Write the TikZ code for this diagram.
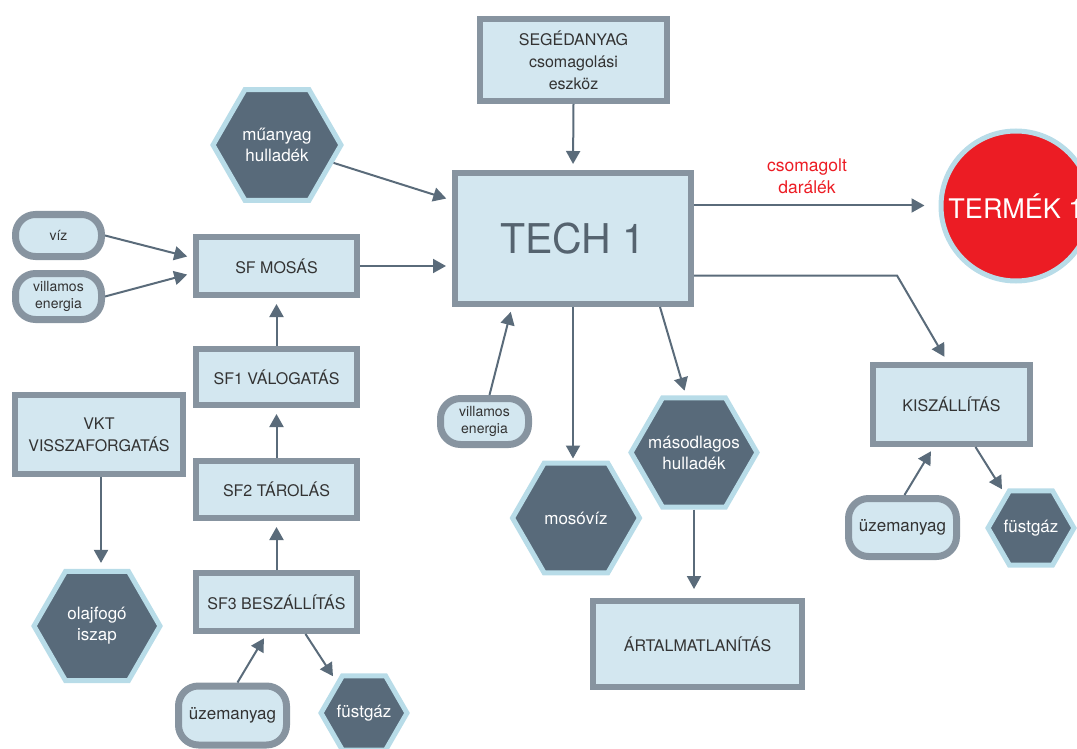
\documentclass[tikz,border=0pt]{standalone}
\usepackage{fontspec}
\setmainfont{TeX Gyre Heros}
\usetikzlibrary{shapes.geometric,arrows.meta,calc}
\definecolor{boxfill}{HTML}{D3E7F0}
\definecolor{boxline}{HTML}{8794A0}
\definecolor{hexfill}{HTML}{586A7A}
\definecolor{hexline}{HTML}{B8DCE8}
\definecolor{arr}{HTML}{5A6B7A}
\definecolor{txt}{HTML}{333333}
\definecolor{techtxt}{HTML}{55636F}
\definecolor{prodred}{HTML}{EC1C24}
\newcommand{\zw}[1]{\makebox[0pt]{#1}}
\begin{document}
\begin{tikzpicture}[x=1pt,y=-1pt,
  box/.style={rectangle, draw=boxline, line width=6pt, fill=boxfill, text=txt,
    font=\fontsize{16}{22}\selectfont, align=center, inner sep=0pt},
  pill/.style={rectangle, rounded corners=20pt, draw=boxline, line width=7pt, fill=boxfill,
    text=txt, align=center, inner sep=0pt},
  hexa/.style={regular polygon, regular polygon sides=6, draw=hexline, line width=5pt,
    fill=hexfill, text=white, align=center, inner sep=0pt, font=\fontsize{17}{21}\selectfont},
  flow/.style={draw=arr, line width=2pt, -{Triangle[length=13pt,width=14pt]}},
  lbl/.style={text=prodred, align=center, font=\fontsize{17.5}{22}\selectfont},
]
\useasboundingbox (0,0) rectangle (1077,749);
\clip (0,0) rectangle (1077,749);

% boxes
\node[box, minimum width=187, minimum height=82] (seg) at (573.5,60) {SEGÉDANYAG\\csomagolási\\eszköz};
\node[box, minimum width=236, minimum height=131, font=\fontsize{41}{48}\selectfont, text=techtxt] (tech) at (573,238.5) {TECH 1};
\node[box, minimum width=161, minimum height=58] (sfm) at (276.5,266) {SF MOSÁS};
\node[box, minimum width=161, minimum height=56] (sf1) at (276.5,377) {SF1 VÁLOGATÁS};
\node[box, minimum width=161, minimum height=57] (sf2) at (276.5,489.5) {SF2 TÁROLÁS};
\node[box, minimum width=161, minimum height=58] (sf3) at (276.5,602) {SF3 BESZÁLLÍTÁS};
\node[box, minimum width=168, minimum height=79] (vkt) at (99,434.5) {VKT\\VISSZAFORGATÁS};
\node[box, minimum width=209, minimum height=86] (art) at (697.5,644) {ÁRTALMATLANÍTÁS};
\node[box, minimum width=157, minimum height=79] (kisz) at (951.5,404.5) {KISZÁLLÍTÁS};

% pills
\node[pill, minimum width=86, minimum height=42, font=\fontsize{14}{17}\selectfont] (viz) at (58.5,235.5) {víz};
\node[pill, minimum width=86, minimum height=46, font=\fontsize{14}{17}\selectfont] (vill1) at (58.5,296.5) {villamos\\energia};
\node[pill, minimum width=88, minimum height=46, font=\fontsize{14}{17}\selectfont] (vill2) at (484.5,421.5) {villamos\\energia};
\node[pill, minimum width=108, minimum height=59, font=\fontsize{17}{21}\selectfont] (uz1) at (232.5,715.5) {üzemanyag};
\node[pill, minimum width=108, minimum height=58, font=\fontsize{17}{21}\selectfont] (uz2) at (902.5,527.5) {üzemanyag};

% hexagons
\node[hexa, minimum size=128] (mu) at (277,145) {\zw{műanyag}\\\zw{hulladék}};
\node[hexa, minimum size=126] (mas) at (694,452.5) {\zw{másodlagos}\\\zw{hulladék}};
\node[hexa, minimum size=127] (mos) at (576,518) {\zw{mosóvíz}};
\node[hexa, minimum size=126] (olaj) at (97,626) {\zw{olajfogó}\\\zw{iszap}};
\node[hexa, minimum size=86] (fg1) at (364,713) {\zw{füstgáz}};
\node[hexa, minimum size=86] (fg2) at (1031,528) {\zw{füstgáz}};

% product
\node[circle, draw=hexline, line width=5pt, fill=prodred, text=white, minimum size=150,
  inner sep=0pt, font=\fontsize{27}{32}\selectfont] (term) at (1016,206) {\zw{TERMÉK 1}};
\node[lbl] (lab) at (807,176) {csomagolt\\darálék};

% connectors
\draw[flow, shorten >=6pt] (seg.south) -- (tech.north);
\draw[flow, shorten >=6pt] (mu) -- (tech);
\draw[flow, shorten >=6pt] (viz.east) -- ([yshift=8pt]sfm.west);
\draw[flow, shorten >=6pt] (vill1.east) -- ([yshift=-7pt]sfm.west);
\draw[flow, shorten >=6pt] (sfm.east) -- (sfm.east -| tech.west);
\draw[flow, shorten >=6pt] (sf1.north) -- (sfm.south);
\draw[flow, shorten >=6pt] (sf2.north) -- (sf1.south);
\draw[flow, shorten >=6pt] (sf3.north) -- (sf2.south);
\coordinate (v1) at ([xshift=2pt]vkt.south);
\draw[flow, shorten >=6pt] (v1) -- (v1 |- olaj.north);
\draw[flow, shorten >=5pt] ([xshift=5pt]uz1.north) -- ([xshift=-10pt]sf3.south);
\draw[flow] ([xshift=29pt]sf3.south) -- ([xshift=-31pt,yshift=-3pt]fg1.north);
\draw[flow, shorten >=5pt] ([xshift=5pt]vill2.north) -- ([xshift=-61pt]tech.south);
\draw[flow, shorten >=2pt] (tech.south) -- (tech.south |- mos.north);
\draw[flow, shorten >=5pt] ([xshift=87pt]tech.south) -- ([xshift=-8pt]mas.north);
\draw[flow, shorten >=9pt] (mas.south) -- (mas.south |- art.north);
\coordinate (t1) at ([yshift=33pt]tech.east);
\draw[flow, shorten >=14pt] (t1) -- (t1 -| term.west);
\coordinate (t2) at ([yshift=-37pt]tech.east);
\coordinate (kb) at (897,275.5);
\draw[flow, shorten >=6pt] (t2) -- (kb) -- ([xshift=-4pt]kisz.north);
\draw[flow, shorten >=5pt] ([xshift=2pt]uz2.north) -- ([xshift=-18pt]kisz.south);
\draw[flow] ([xshift=24pt]kisz.south) -- ([xshift=-29pt,yshift=-1pt]fg2.north);
\end{tikzpicture}
\end{document}
